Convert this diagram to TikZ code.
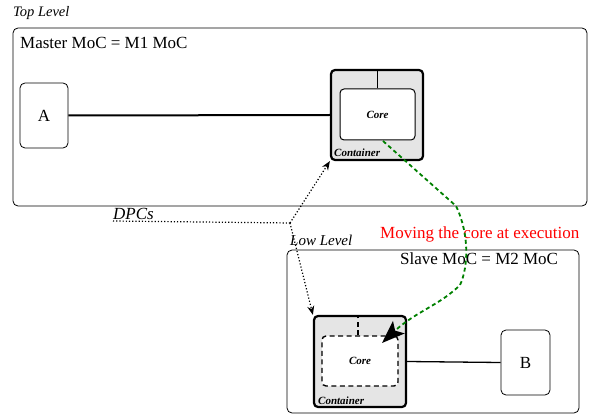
\documentclass[tikz,border=0pt]{standalone}
\usepackage{fontspec}
\setmainfont{Liberation Serif}
\usetikzlibrary{arrows.meta}
\definecolor{ctgray}{gray}{0.9}
\definecolor{mvgreen}{RGB}{0,128,0}
\tikzset{
  level/.style={draw, rounded corners=5pt, line width=0.8pt, inner sep=0pt},
  blockbox/.style={draw, rounded corners=5pt, line width=0.8pt, fill=white, inner sep=0pt, font=\fontsize{17}{20}\selectfont},
  container/.style={draw, rounded corners=4pt, line width=2.2pt, fill=ctgray, inner sep=0pt},
  corebox/.style={draw, rounded corners=4pt, line width=1pt, fill=white, inner sep=0pt, font=\fontsize{11}{13}\selectfont\bfseries\itshape},
  ctlabel/.style={anchor=base west, inner sep=0pt, font=\fontsize{11}{13}\selectfont\bfseries\itshape},
  title/.style={anchor=base west, inner sep=0pt, font=\fontsize{17}{20}\selectfont},
  lvl/.style={anchor=base west, inner sep=0pt, font=\fontsize{15}{18}\selectfont\itshape},
  dpc/.style={line width=1.2pt, dotted},
  dpcarrow/.style={dpc, -{Stealth[length=9pt,width=7pt]}},
  coredash/.style={line width=1.4pt, dash pattern=on 5pt off 3.5pt},
  move/.style={draw=mvgreen, line width=1.8pt, dash pattern=on 4pt off 3pt, -{Stealth[length=23pt,width=17pt,inset=5pt,black]}}
}
\begin{document}
\begin{tikzpicture}[x=1pt,y=-1pt]
\useasboundingbox (0,0) rectangle (597,414);
% top level
\node[lvl, font=\fontsize{14.5}{17}\selectfont\itshape] (toplbl) at (13,17) {Top Level};
\node[level, minimum width=574pt, minimum height=178pt] (top) at (300,117) {};
\node[title] (master) at (20,49) {Master MoC = M1 MoC};
\node[blockbox, minimum width=48pt, minimum height=65pt] (A) at (44,115.5) {A};
\node[container, minimum width=92pt, minimum height=90pt] (ctT) at (377,115) {};
\node[corebox, minimum width=75pt, minimum height=51pt] (coreT) at (377.5,114.5) {Core};
\draw[line width=1pt] (coreT.north) -- (coreT.north |- ctT.north);
\node[ctlabel] (ctTl) at (334,157) {Container};
\draw[line width=2pt] (A.east) -- (ctT.west);
% low level
\node[lvl] (lowlbl) at (290,245) {Low Level};
\node[level, minimum width=292pt, minimum height=163pt] (low) at (433,331.5) {};
\node[title] (slave) at (400,264) {Slave MoC = M2 MoC};
\node[container, minimum width=92pt, minimum height=91pt] (ctL) at (360,361.5) {};
\node[corebox, coredash, minimum width=76pt, minimum height=50pt] (coreL) at (360,361) {Core};
\draw[coredash] ([xshift=-2pt]coreL.north) -- ([xshift=-2pt]coreL.north |- ctL.north);
\node[ctlabel] (ctLl) at (318,404) {Container};
\node[blockbox, minimum width=49pt, minimum height=65pt] (B) at (525.5,362.5) {B};
\draw[line width=1.3pt] (ctL.east) -- (B.west);
% DPCs
\node[anchor=base west, inner sep=0pt, font=\fontsize{17}{20}\selectfont\itshape] (dpcs) at (113,220) {DPCs};
\coordinate (dstart) at (113,221);
\coordinate (junc) at (290,223);
\draw[dpc] (dstart) -- (junc);
\draw[dpcarrow] (junc) -- (ctT.south west);
\draw[dpcarrow] (junc) -- (ctL.north west);
% moving
\node[anchor=base west, inner sep=0pt, text=red, font=\fontsize{17}{20}\selectfont] (movelbl) at (380,239) {Moving the core at execution};
\coordinate (g0) at (383,141);
\coordinate (g1) at (456,206);
\coordinate (g2) at (460,285);
\coordinate (gtip) at (382,343);
\draw[move] (g0) -- (g1) .. controls (470,235) and (468,268) .. (g2) .. controls (440,305) and (415,312) .. (gtip);
\end{tikzpicture}
\end{document}
